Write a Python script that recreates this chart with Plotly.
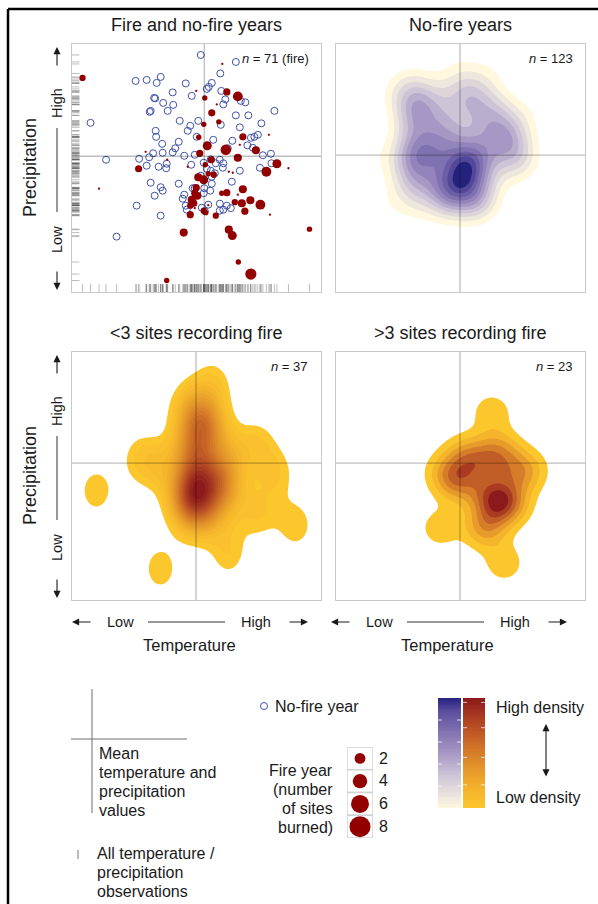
import numpy as np
import plotly.graph_objects as go

W, H = 598, 904
FONT = "Liberation Sans, Arial, Helvetica, sans-serif"
TXT = "#1a1a1a"

# ---------------- data (standardised anomalies, mean = 0) ----------------
nofire_temp = [-0.07, 0.63, 0.32, -1.37, -1.15, -0.87, -0.95, -0.37, 0.15, 0.09,
               0.05, 0.34, -0.63, -0.25, -1.00, -0.98, -0.82, -0.62, 0.42, 0.38,
               0.73, 0.82, -1.07, -1.09, -0.73, 1.40, 0.63, 0.88, -2.27, -0.49,
               -0.12, -0.28, 0.33, 0.71, 1.14, -0.97, -0.33, -0.96, -0.15, 0.18,
               -0.51, -0.84, 0.56, 0.93, 1.00, 1.07, 0.86, 0.97, -0.58, -0.63,
               -1.02, -0.83, -1.10, -1.30, -1.96, -0.40, -0.19, 0.13, 0.31, 0.47,
               1.17, 1.33, -1.15, -0.91, -0.75, -0.76, -0.26, -0.01, 0.23, 0.38,
               0.37, 0.71, 1.11, 1.34, 0.05, 0.13, -0.07, 0.15, 0.21, -1.07,
               -0.87, -0.83, -0.51, -0.19, -0.23, 0.00, 0.15, 0.55, -0.99, -0.40,
               -0.43, -0.01, 0.12, -1.35, -0.37, -0.25, 0.08, 0.31, 0.45, 0.53,
               -0.35, -0.05, -0.87, 0.01, 0.31, 0.38, -1.75]
nofire_precip = [2.03, 1.89, 1.66, 1.51, 1.53, 1.59, 1.47, 1.46, 1.47, 1.39,
                 1.35, 1.31, 1.28, 1.21, 1.17, 1.16, 1.07, 1.03, 1.14, 1.04,
                 1.11, 1.08, 0.91, 0.89, 0.91, 0.91, 0.82, 0.82, 0.67, 0.71,
                 0.71, 0.61, 0.63, 0.58, 0.66, 0.51, 0.51, 0.39, 0.39, 0.33,
                 0.29, 0.25, 0.31, 0.37, 0.39, 0.43, 0.22, 0.17, 0.16, 0.08,
                 0.06, 0.07, -0.02, -0.05, -0.07, 0.01, 0.03, -0.06, -0.07, 0.16,
                 0.02, 0.05, -0.19, -0.21, -0.15, -0.24, -0.17, -0.13, -0.14, -0.14,
                 -0.23, -0.29, -0.23, -0.14, -0.25, -0.29, -0.39, -0.41, -0.34, -0.53,
                 -0.62, -0.69, -0.55, -0.64, -0.64, -0.64, -0.55, -0.51, -0.79, -0.77,
                 -0.85, -0.74, -0.69, -0.99, -0.99, -0.95, -0.97, -0.95, -0.99, -1.04,
                 -1.07, -1.03, -1.19, -1.10, -1.09, -1.07, -1.61]

fire_temp = [-2.43, 0.36, -0.16, 0.01, 0.45, 0.67, 0.25, 0.15, 0.29, -0.01,
             1.29, 0.77, -0.11, 0.06, 0.43, 0.71, 1.03, -1.17, -0.09, 0.67,
             0.14, -0.74, -1.31, 0.02, -0.33, 1.45, 1.24, 1.68, 0.49, 0.57,
             0.19, 0.08, -0.12, -0.01, -2.10, 0.77, -0.16, -0.19, -0.14, 0.45,
             0.35, 0.67, -0.25, -0.21, -0.28, 0.75, 0.92, 1.12, 0.81, 0.61,
             0.08, -0.19, -0.28, -0.01, 0.03, 0.23, 1.31, -0.41, 0.49, 0.56,
             2.10, 0.68, 0.93, -0.75]
fire_precip = [1.57, 1.85, 1.31, 1.17, 1.29, 1.20, 1.04, 0.87, 0.69, 0.64,
               0.43, 0.39, 0.38, 0.21, 0.13, 0.23, 0.12, 0.09, 0.06, -0.03,
               -0.07, -0.07, -0.25, -0.17, -0.21, -0.15, -0.31, -0.24, -0.31, -0.33,
               -0.37, -0.35, -0.42, -0.47, -0.65, -0.66, -0.63, -0.74, -0.79, -0.73,
               -0.74, -0.77, -0.87, -0.94, -0.99, -0.94, -0.88, -0.97, -1.10, -0.92,
               -0.98, -1.04, -1.17, -1.09, -1.13, -1.19, -1.17, -1.53, -1.47, -1.59,
               -1.46, -2.12, -2.36, -2.49]
fire_sites_burned = [3, 1, 1, 2, 4, 7, 1, 4, 2, 2,
                     1, 4, 2, 6, 8, 1, 5, 1, 4, 5,
                     4, 1, 4, 2, 1, 6, 7, 1, 1, 1,
                     3, 2, 5, 6, 1, 5, 4, 4, 5, 4,
                     2, 1, 5, 4, 3, 5, 5, 7, 4, 3,
                     1, 1, 4, 3, 2, 3, 1, 5, 5, 6,
                     2, 2, 9, 2]
fire_sites_recording = [3, 1, 1, 2, 3, 5, 1, 2, 2, 2,
                        1, 4, 2, 5, 5, 1, 4, 1, 2, 4,
                        4, 1, 3, 2, 4, 4, 5, 1, 1, 1,
                        2, 2, 4, 5, 1, 4, 2, 2, 2, 4,
                        2, 1, 3, 3, 3, 4, 4, 5, 4, 3,
                        1, 1, 3, 3, 2, 2, 1, 4, 4, 5,
                        2, 2, 5, 2]
MEAN_TEMP = 0.0
MEAN_PRECIP = 0.0
legend_sites = [2, 4, 6, 8]

# ---------------- styles ----------------
SIZE_BY_SITES = {1: 2.3, 2: 5.4, 3: 6.3, 4: 7.2, 5: 8.1, 6: 9.0, 7: 9.8, 8: 10.5, 9: 11.2}
BLUE_PT = "rgb(62,82,168)"
RED_PT = "#930000"
FIRE_STOPS = [(0.0, "rgb(252,198,45)"), (0.15, "rgb(245,182,44)"), (0.35, "rgb(229,152,42)"),
              (0.55, "rgb(209,116,40)"), (0.75, "rgb(182,76,36)"), (1.0, "rgb(140,25,28)")]
BLUE_STOPS = [(0.0, "rgb(255,248,222)"), (0.12, "rgb(234,227,221)"), (0.3, "rgb(205,196,215)"),
              (0.5, "rgb(166,151,196)"), (0.7, "rgb(128,113,177)"), (0.88, "rgb(92,78,158)"),
              (1.0, "rgb(35,35,125)")]

P1X, P1Y = (-2.64, 2.33), (-2.72, 2.25)
PDX, PDY = (-2.61, 2.63), (-3.23, 2.62)


def paper_x(v):
    return v / W


def paper_y(v):
    return 1 - v / H


fig = go.Figure()

# ---- panel 1: scatter ----
fig.add_trace(go.Scatter(x=nofire_temp, y=nofire_precip, mode="markers", xaxis="x", yaxis="y",
                         marker=dict(symbol="circle-open", size=7, color=BLUE_PT, opacity=1,
                                     line=dict(width=1)),
                         hoverinfo="skip"))
order = sorted(range(len(fire_temp)), key=lambda i: -fire_sites_burned[i])
fig.add_trace(go.Scatter(x=[fire_temp[i] for i in order], y=[fire_precip[i] for i in order],
                         mode="markers", xaxis="x", yaxis="y",
                         marker=dict(size=[SIZE_BY_SITES[fire_sites_burned[i]] for i in order],
                                     color=RED_PT, opacity=1, line=dict(width=0)),
                         hoverinfo="skip"))


def kde(xs, ys, hx, hy, gx, gy):
    xs = np.asarray(xs, float)[:, None, None]
    ys = np.asarray(ys, float)[:, None, None]
    return np.exp(-0.5 * ((gx[None, None, :] - xs) / hx) ** 2
                  - 0.5 * ((gy[None, :, None] - ys) / hy) ** 2).sum(axis=0)


def add_density(xs, ys, xa, ya, hx, hy, start, nb, stops, relative=False):
    gx = np.linspace(PDX[0], PDX[1], 181)
    gy = np.linspace(PDY[0], PDY[1], 201)
    z = kde(xs, ys, hx, hy, gx, gy)
    zmax = float(z.max())
    if relative:
        start = start * zmax
    size = (zmax - start) / nb
    end = start + (nb - 1) * size + size * 1e-3
    cs = [[0.0, "#ffffff"], [0.5 / nb, "#ffffff"]]
    cs += [[1.0 / nb + t * (1 - 1.0 / nb), c] for t, c in stops]
    fig.add_trace(go.Contour(x=gx, y=gy, z=np.round(z, 4), xaxis=xa, yaxis=ya,
                             contours=dict(start=start, end=end, size=size, coloring="fill",
                                           showlines=False),
                             line=dict(width=0, smoothing=1), colorscale=cs, showscale=False,
                             hoverinfo="skip"))


grpA_t = [t for t, r in zip(fire_temp, fire_sites_recording) if r < 3]
grpA_p = [p for p, r in zip(fire_precip, fire_sites_recording) if r < 3]
grpB_t = [t for t, r in zip(fire_temp, fire_sites_recording) if r > 3]
grpB_p = [p for p, r in zip(fire_precip, fire_sites_recording) if r > 3]

add_density(nofire_temp, nofire_precip, "x2", "y2", 0.29, 0.38, 0.10, 11, BLUE_STOPS, relative=True)
add_density(grpA_t, grpA_p, "x3", "y3", 0.30, 0.46, 0.72, 20, FIRE_STOPS)
add_density(grpB_t, grpB_p, "x4", "y4", 0.31, 0.34, 0.60, 7, FIRE_STOPS)

# ---- legend: colour bars ----
grad_edges = np.linspace(0, 1, 81)
grad_vals = [[(a + b) / 2] for a, b in zip(grad_edges[:-1], grad_edges[1:])]
blue_cs = [[t, c] for t, c in BLUE_STOPS]
fire_cs = [[t, c] for t, c in FIRE_STOPS]
fig.add_trace(go.Heatmap(z=grad_vals, x=[0, 23], y=grad_edges, colorscale=blue_cs, zmin=0, zmax=1,
                         showscale=False, xaxis="x5", yaxis="y5", hoverinfo="skip"))
fig.add_trace(go.Heatmap(z=grad_vals, x=[25, 47], y=grad_edges, colorscale=fire_cs, zmin=0, zmax=1,
                         showscale=False, xaxis="x5", yaxis="y5", hoverinfo="skip"))

# ---- legend: size circles ----
fig.add_trace(go.Scatter(x=[0] * len(legend_sites), y=list(range(1, len(legend_sites) + 1)),
                         mode="markers", xaxis="x6", yaxis="y6",
                         marker=dict(size=[2 * SIZE_BY_SITES[s] for s in legend_sites], color=RED_PT,
                                     opacity=1, line=dict(width=0)), hoverinfo="skip"))


def panel_axes(xd, yd, xr, yr):
    common = dict(showticklabels=False, ticks="", showgrid=False, zeroline=False, showline=True,
                  linecolor="#C9C9C9", linewidth=1, mirror=True, fixedrange=True)
    xa = dict(domain=[paper_x(xd[0]), paper_x(xd[1])], range=list(xr), **common)
    ya = dict(domain=[paper_y(yd[1]), paper_y(yd[0])], range=list(yr), **common)
    return xa, ya


x1, y1 = panel_axes((72, 321), (44, 292), P1X, P1Y)
x2, y2 = panel_axes((336, 585), (44, 292), PDX, PDY)
x3, y3 = panel_axes((72, 321), (352, 600), PDX, PDY)
x4, y4 = panel_axes((336, 585), (352, 600), PDX, PDY)
x1["anchor"], y1["anchor"] = "y", "x"
x2["anchor"], y2["anchor"] = "y2", "x2"
x3["anchor"], y3["anchor"] = "y3", "x3"
x4["anchor"], y4["anchor"] = "y4", "x4"
hidden = dict(visible=False, fixedrange=True)
x5 = dict(domain=[paper_x(438), paper_x(485)], range=[0, 47], anchor="y5", **hidden)
y5 = dict(domain=[paper_y(808), paper_y(698)], range=[0, 1], anchor="x5", **hidden)
x6 = dict(domain=[paper_x(347), paper_x(373)], range=[-1, 1], anchor="y6", **hidden)
y6 = dict(domain=[paper_y(838), paper_y(747)], range=[4.5, 0.5], anchor="x6", **hidden)

# ---------------- shapes ----------------
shapes = []
CROSS = dict(color="rgba(0,0,0,0.26)", width=1.3)
for xa, ya in [("x", "y"), ("x2", "y2"), ("x3", "y3"), ("x4", "y4")]:
    shapes.append(dict(type="line", xref=xa, yref=ya + " domain", x0=MEAN_TEMP, x1=MEAN_TEMP,
                       y0=0, y1=1, line=CROSS, layer="above"))
    shapes.append(dict(type="line", xref=xa + " domain", yref=ya, x0=0, x1=1,
                       y0=MEAN_PRECIP, y1=MEAN_PRECIP, line=CROSS, layer="above"))

RUG = dict(color="rgba(60,60,60,0.42)", width=0.8)
for t in nofire_temp + fire_temp:
    shapes.append(dict(type="line", xref="x", yref="y domain", x0=t, x1=t, y0=0, y1=0.032,
                       line=RUG, layer="above"))
for p in nofire_precip + fire_precip:
    shapes.append(dict(type="line", xref="x domain", yref="y", x0=0, x1=0.03, y0=p, y1=p,
                       line=RUG, layer="above"))


def pline(xa, ya, xb, yb, color=TXT, width=1.0):
    shapes.append(dict(type="line", xref="paper", yref="paper", x0=paper_x(xa), y0=paper_y(ya),
                       x1=paper_x(xb), y1=paper_y(yb), line=dict(color=color, width=width)))


# outer frame (left and top)
pline(8, 9, 8, 904, "black", 2.5)
pline(8, 9, 598, 9, "black", 2.5)
# axis-label connector lines
pline(57, 128, 57, 212, "#333333", 1)
pline(57, 436, 57, 520, "#333333", 1)
pline(148, 622, 225, 622, "#333333", 1)
pline(407, 622, 484, 622, "#333333", 1)
# legend: mean cross + rug tick
pline(92, 689, 92, 813, "#6f6f6f", 1)
pline(71, 739, 187, 739, "#6f6f6f", 1)
pline(78, 850, 78, 859, "#777777", 1)
# legend: no-fire circle
shapes.append(dict(type="circle", xref="paper", yref="paper", x0=paper_x(260.5), x1=paper_x(267.5),
                   y0=paper_y(709.5), y1=paper_y(702.5), line=dict(color=BLUE_PT, width=1)))
# legend: size cells
for k in range(1, len(legend_sites) + 1):
    shapes.append(dict(type="rect", xref="x6", yref="y6", x0=-1, x1=1, y0=k - 0.5, y1=k + 0.5,
                       line=dict(color="#D2D2D2", width=1.5), fillcolor="white", layer="below"))
# legend: faint ticks on colour bars
for f in [0.2, 0.4, 0.6, 0.8]:
    yy = 698 + 110 * f
    pline(438, yy, 442, yy, "rgba(255,255,255,0.75)", 1)
    pline(457, yy, 461, yy, "rgba(255,255,255,0.75)", 1)
for f in [0.04, 0.27, 0.54, 0.79]:
    yy = 698 + 110 * f
    pline(463, yy, 467, yy, "rgba(255,255,255,0.7)", 1)
    pline(481, yy, 485, yy, "rgba(255,255,255,0.7)", 1)

# ---------------- annotations ----------------
ann = []


def txt(s, x, y, size=16, xa="center", ya="middle", angle=0):
    ann.append(dict(text=s, x=paper_x(x), y=paper_y(y), xref="paper", yref="paper", showarrow=False,
                    xanchor=xa, yanchor=ya, textangle=angle,
                    font=dict(family=FONT, size=size, color=TXT)))


def arrow(hx, hy, dx, dy, both=False):
    d = dict(text="", x=paper_x(hx), y=paper_y(hy), xref="paper", yref="paper", ax=dx, ay=dy,
             axref="pixel", ayref="pixel", showarrow=True, arrowhead=2, arrowsize=1.3,
             arrowwidth=1.1, arrowcolor=TXT, standoff=0)
    if both:
        d.update(arrowside="end+start", startarrowhead=2, startarrowsize=1.3, startstandoff=0)
    ann.append(d)


txt("Fire and no-fire years", 196.5, 25, 18)
txt("No-fire years", 460.5, 25, 18)
txt("&lt;3 sites recording fire", 196.5, 333, 18)
txt("&gt;3 sites recording fire", 460.5, 333, 18)
txt("<i>n</i> = 71 (fire)", 311, 58, 13, xa="right")
txt("<i>n</i> = 123", 575, 58, 13, xa="right")
txt("<i>n</i> = 37", 310, 367, 13, xa="right")
txt("<i>n</i> = 23", 575, 366, 13, xa="right")

for off in (0, 308):
    txt("Precipitation", 30, 168 + off, 18, angle=-90)
    txt("High", 57, 103 + off, 14.5, angle=-90)
    txt("Low", 57, 240 + off, 14.5, angle=-90)
    arrow(57, 47 + off, 0, 20)
    arrow(57, 290 + off, 0, -20)

for off in (0, 259):
    arrow(72 + off, 622, 20, 0)
    arrow(308 + off, 622, -20, 0)
    txt("Low", 120 + off, 622, 14.5)
    txt("High", 256 + off, 622, 14.5)
    txt("Temperature", 189 + off, 645, 16.5)

txt("Mean", 97, 753, 16, xa="left")
txt("temperature and", 97, 772, 16, xa="left")
txt("precipitation", 97, 791, 16, xa="left")
txt("values", 97, 810, 16, xa="left")
txt("All temperature /", 95, 853, 16, xa="left")
txt("precipitation", 95, 872, 16, xa="left")
txt("observations", 95, 891, 16, xa="left")
txt("No-fire year", 273, 706, 16, xa="left")
txt("Fire year", 335, 770, 16, xa="right")
txt("(number", 335, 789, 16, xa="right")
txt("of sites", 335, 808, 16, xa="right")
txt("burned)", 335, 827, 16, xa="right")
for k, s in enumerate(legend_sites):
    txt(str(s), 377, 758 + 22.75 * k, 16, xa="left")
txt("High density", 494, 707, 16, xa="left")
txt("Low density", 494, 797, 16, xa="left")
arrow(546, 724, 0, 54, both=True)

fig.update_layout(width=W, height=H, margin=dict(l=0, r=0, t=0, b=0), paper_bgcolor="white",
                  plot_bgcolor="white", showlegend=False,
                  xaxis=x1, yaxis=y1, xaxis2=x2, yaxis2=y2, xaxis3=x3, yaxis3=y3,
                  xaxis4=x4, yaxis4=y4, xaxis5=x5, yaxis5=y5, xaxis6=x6, yaxis6=y6,
                  shapes=shapes, annotations=ann)

fig.write_html("out.html", config={"displayModeBar": False},
               post_script="document.body.style.margin='0px';document.body.style.overflow='hidden';")
